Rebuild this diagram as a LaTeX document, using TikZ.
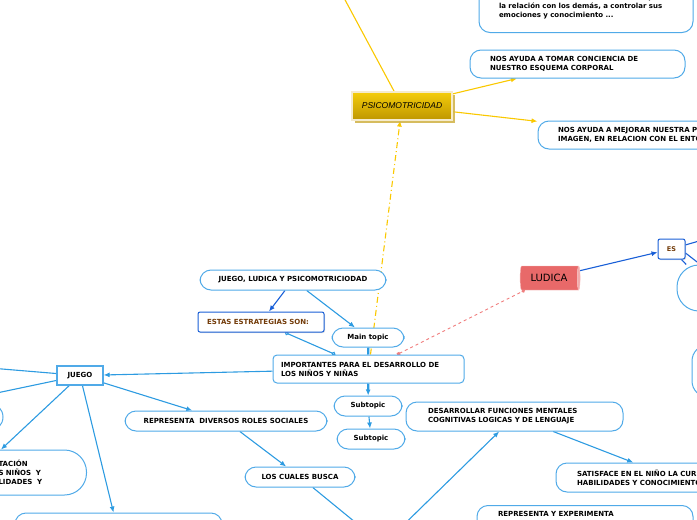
\documentclass[tikz,border=0pt]{standalone}
\usepackage{fontspec}
\setmainfont{DejaVu Sans}
\newfontfamily\handfont{Liberation Sans}
\usetikzlibrary{arrows.meta,shapes.geometric,shadows,backgrounds}

\definecolor{mapline}{RGB}{45,155,225}
\definecolor{mapedge}{RGB}{80,170,232}
\definecolor{deepblue}{RGB}{25,95,215}
\definecolor{nutbrown}{RGB}{115,60,10}
\definecolor{goldtop}{RGB}{245,205,10}
\definecolor{goldbot}{RGB}{190,150,0}
\definecolor{goldrim}{RGB}{245,235,205}
\definecolor{goldline}{RGB}{250,200,0}
\definecolor{rosered}{RGB}{232,105,105}
\definecolor{rosedash}{RGB}{240,125,125}

\newcommand\mapfont{\fontsize{7}{9}\selectfont\bfseries}

\begin{document}
\begin{tikzpicture}[x=1pt,y=-1pt,
	idea/.style={draw=mapedge, line width=1pt, fill=white, rounded corners=11pt, font=\mapfont, inner ysep=0pt, align=center},
	leftidea/.style={idea, align=left, inner xsep=20pt},
	arr/.style={draw=mapline, line width=1.1pt, -{Latex[length=6pt,width=5pt]}},
	deeparr/.style={draw=deepblue, line width=1.1pt, -{Latex[length=6pt,width=5pt]}},
	goldarr/.style={draw=goldline, line width=1.1pt, -{Latex[length=6pt,width=5pt]}},
	plainline/.style={draw=mapline, line width=1.1pt},
	bluebox/.style={draw=deepblue, line width=1pt, rounded corners=2pt, fill=white, text=nutbrown, font=\mapfont, drop shadow={shadow xshift=1pt, shadow yshift=-1pt, fill=black!25, opacity=0.5}}]
	\useasboundingbox (0,0) rectangle (697,520);
	\clip (0,0) rectangle (697,520);

	% psicomotricidad
	\node[leftidea, text width=174pt, anchor=south, inner ysep=13pt] (afectivo) at (586,33) {niños a desarrollar su movimiento corporal,\\la relación con los demás, a controlar sus\\emociones y conocimiento ...};
	\node[leftidea, text width=175pt, minimum height=28pt] (conciencia) at (577.5,64) {NOS AYUDA A TOMAR CONCIENCIA DE\\NUESTRO ESQUEMA CORPORAL};
	\node[leftidea, text width=200pt, minimum height=28pt] (imagen) at (658,135) {NOS AYUDA A MEJORAR NUESTRA PROPIA\\IMAGEN, EN RELACION CON EL ENTORNO};
	\node[draw=goldrim, line width=1.2pt, top color=goldtop, bottom color=goldbot, minimum width=100pt, minimum height=28pt, font=\handfont\itshape\fontsize{8.5}{9}\selectfont, drop shadow={shadow xshift=3pt, shadow yshift=-3pt, fill=goldbot!70!white, opacity=0.9}] (psico) at (402,106) {PSICOMOTRICIDAD};
	\coordinate (upper) at (329,-30);

	% centro
	\node[idea, minimum width=186pt, minimum height=20pt] (trilogia) at (293,280) {JUEGO, LUDICA Y PSICOMOTRICIODAD};
	\node[bluebox, align=left, text width=108pt, inner xsep=9pt, minimum height=20pt] (estrategias) at (261,322) {ESTAS ESTRATEGIAS SON:};
	\node[idea, minimum width=72pt, minimum height=19pt] (main) at (368,337.5) {Main topic};
	\node[leftidea, rounded corners=4pt, text width=175pt, inner xsep=8pt, minimum height=28pt] (importantes) at (368.5,369) {IMPORTANTES PARA EL DESARROLLO DE\\LOS NIÑOS Y NIÑAS};
	\node[idea, minimum width=68pt, minimum height=20pt] (subA) at (368,406) {Subtopic};
	\node[idea, minimum width=68pt, minimum height=20pt] (subB) at (371,439) {Subtopic};

	% ludica
	\node[cylinder, aspect=0.3, minimum height=60pt, minimum width=24pt, inner xsep=2pt, inner ysep=1pt, cylinder uses custom fill, cylinder body fill=rosered, cylinder end fill=rosered!55!white, draw=rosered!45!white, font=\fontsize{10}{10}\selectfont] (ludica) at (549,278) {LUDICA};
	\node[bluebox, font=\mapfont\fontsize{6.5}{8}\selectfont, minimum width=27pt, minimum height=20pt, inner sep=0pt] (es) at (671.5,249) {ES};
	\node[idea, rounded corners=22pt, minimum width=63pt, minimum height=46pt] (esdef) at (708.5,288) {};
	\node[idea, rounded corners=16pt, minimum width=68pt, minimum height=52pt] (eslist) at (726,371) {};
	\coordinate (esUp) at (730,232);
	\coordinate (esDown) at (710,272);

	% juego
	\node[draw=mapedge, line width=1.3pt, fill=white, font=\mapfont, minimum width=46pt, minimum height=19pt, inner sep=0pt] (juego) at (80,375.5) {JUEGO};
	\node[idea, rounded corners=14pt, minimum width=63pt, minimum height=28pt] (juegoizq) at (-28.5,417) {};
	\node[leftidea, text width=66pt, inner xsep=22pt, rounded corners=22pt, minimum height=45pt, anchor=east] (adaptacion) at (87,472.5) {TACIÓN\\S NIÑOS\ \ Y\\LIDADES\ \ Y};
	\node[idea, minimum width=207pt, minimum height=40pt] (abajo) at (118.5,533) {};
	\node[idea, minimum width=202pt, minimum height=20pt] (roles) at (226,421) {REPRESENTA\ \ DIVERSOS ROLES SOCIALES};
	\node[idea, minimum width=110pt, minimum height=20pt] (busca) at (300,477) {LOS CUALES BUSCA};
	\coordinate (leftA) at (-40,365.5);
	\coordinate (leftB) at (-40,400.7);
	\coordinate (hub) at (383,545);

	% funciones
	\node[leftidea, text width=173pt, inner xsep=22pt, minimum height=29pt] (funciones) at (514.5,416.5) {DESARROLLAR FUNCIONES MENTALES\\COGNITIVAS LOGICAS Y DE LENGUAJE};
	\node[leftidea, text width=190pt, inner xsep=21pt, minimum height=29pt] (curiosidad) at (672,477.5) {SATISFACE EN EL NIÑO LA CURIOSIDAD\\HABILIDADES Y CONOCIMIENTOS};
	\node[leftidea, text width=174pt, inner xsep=21pt, anchor=north, inner ysep=6pt, text depth=20pt] (experimenta) at (585,505) {REPRESENTA Y EXPERIMENTA};

	\begin{pgfonlayer}{background}
		\draw[goldline, line width=1.1pt] (psico) -- (upper);
		\draw[goldarr] (psico) -- (conciencia);
		\draw[goldarr] (psico) -- (imagen);
		\draw[goldarr, dash pattern=on 6pt off 3pt on 1pt off 3pt] ([xshift=2pt]importantes.north) -- (psico);

		\draw[deeparr] (trilogia) -- (estrategias);
		\draw[arr] (trilogia) -- (main);
		\draw[plainline, {Circle[open,length=4pt,width=4pt]}-{Circle[open,length=4pt,width=4pt]}] (estrategias) -- (importantes);
		\draw[mapline, line width=2.2pt] (main) -- (importantes);
		\draw[rosedash, dashed, line width=0.9pt, {Square[length=3pt,width=3pt]}-{Circle[length=3.5pt,width=3.5pt]}] (importantes) -- (ludica);
		\draw[arr, line width=2.2pt] (importantes) -- (subA);
		\draw[arr] (subA) -- (subB);

		\draw[deeparr] (ludica) -- (es);
		\draw[deepblue, line width=1.1pt] (es) -- (esUp);
		\draw[deepblue, line width=1.1pt] ([yshift=-4pt]es.east) -- (esDown);
		\draw[deepblue, line width=1.1pt] (es) -- (esdef);

		\draw[arr] (importantes) -- (juego);
		\draw[plainline] (juego) -- (leftA);
		\draw[plainline] (juego) -- (leftB);
		\draw[arr] (juego) -- ([xshift=25pt]adaptacion.north west);
		\draw[arr] (juego) -- (abajo);
		\draw[arr] (juego) -- (roles);
		\draw[arr] (roles) -- (busca);
		\draw[plainline] (busca) -- (hub);
		\draw[arr] (hub) -- (funciones);
		\draw[arr] (funciones) -- (curiosidad);
	\end{pgfonlayer}
\end{tikzpicture}
\end{document}
